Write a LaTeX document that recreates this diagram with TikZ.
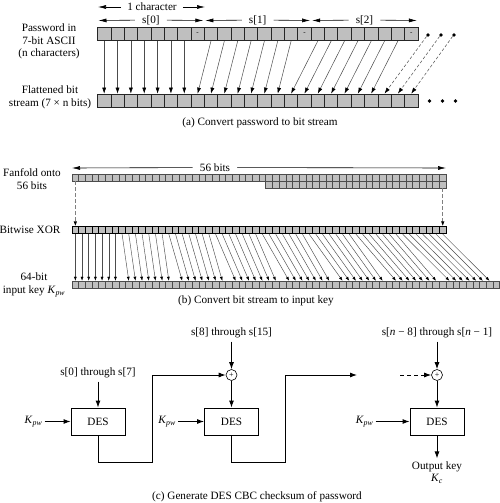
\documentclass[tikz,border=0pt]{standalone}
\usepackage{fontspec}
\setmainfont{Liberation Serif}
\usetikzlibrary{arrows.meta, positioning, calc}
\definecolor{bitgray}{gray}{0.75}
\definecolor{wiregray}{gray}{0.3}
\newcommand{\keypw}{\textit{K}\textsubscript{\textit{pw}}}
\newcommand{\keyc}{\textit{K}\textsubscript{\textit{c}}}

\begin{document}
\begin{tikzpicture}[x=1pt, y=-1pt,
  every node/.style={font=\fontsize{11.2}{12.5}\selectfont},
  bigbit/.style={rectangle, draw=black!85, fill=bitgray, line width=0.7pt,
    minimum width=13.35pt, minimum height=13.4pt, inner sep=0pt,
    font=\fontsize{7}{7}\selectfont},
  tinybit/.style={rectangle, draw=black!70, fill=bitgray, line width=0.5pt,
    minimum width=6.68pt, minimum height=6.8pt, inner sep=0pt},
  xorbit/.style={tinybit, draw=black, line width=0.9pt},
  rowname/.style={align=center, inner sep=0pt},
  dimtext/.style={fill=white, inner xsep=7pt, inner ysep=1pt},
  dimarrow/.style={-{Latex[length=8pt,width=4pt]}, line width=0.6pt},
  dotmark/.style={circle, fill=black, minimum size=3.6pt, inner sep=0pt},
  bitarrow/.style={-{Latex[length=6pt,width=4pt,color=black]}, line width=0.5pt, wiregray},
  dashdrop/.style={bitarrow, dash pattern=on 3pt off 2pt},
  keyarrow/.style={-{Latex[length=4pt,width=3pt,color=black]}, line width=0.45pt, wiregray},
  folddrop/.style={-{Latex[length=5pt,width=3.5pt,color=black]}, line width=1.1pt,
    dash pattern=on 4pt off 2pt, gray},
  desbox/.style={rectangle, draw, line width=0.9pt, minimum width=54pt, minimum height=27pt},
  xorsum/.style={circle, draw, line width=0.6pt, minimum size=11pt, inner sep=0pt,
    font=\fontsize{8}{8}\selectfont},
  flow/.style={-{Latex[length=7pt,width=5pt]}, line width=0.9pt},
  captext/.style={inner sep=0pt}
]
  \useasboundingbox (0,0) rectangle (500,503);

  % (a) password to bit stream
  \node[rowname] (pwname) at (49,41.5) {Password in\\7-bit ASCII\\(n characters)};
  \node[rowname] (flname) at (50,97.5) {Flattened bit\\stream (7 × n bits)};
  \foreach \k in {0,...,23} {
    \pgfmathtruncatemacro\pos{mod(\k,8)}
    \node[bigbit] (pw-\k) at ({97.5+13.35*(\k+0.5)},34) {\ifnum\pos=7 -\fi};
    \node[bigbit] (fl-\k) at ({97.5+13.35*(\k+0.5)},100.7) {};
  }
  \foreach \k in {0,...,22} {
    \pgfmathtruncatemacro\pos{mod(\k,8)}
    \pgfmathtruncatemacro\j{\k-floor(\k/8)}
    \ifnum\pos<7 \draw[bitarrow] (pw-\k.south) -- (fl-\j.north); \fi
  }
  \foreach \i/\x in {1/428,2/441,3/454} {
    \node[dotmark] (td-\i) at (\x,35) {};
    \node[dotmark] (bd-\i) at ({\x+1.5},101) {};
  }
  \foreach \i/\j in {1/21,2/22,3/23}
    \draw[dashdrop] (td-\i.south west) -- (fl-\j.north);

  \node[dimtext, inner xsep=6pt] (onechar) at (152,7) {1 character};
  \coordinate (oc-l) at (98,7);
  \coordinate (oc-r) at (205,7);
  \draw[dimarrow] (onechar) -- (oc-l);
  \draw[dimarrow] (onechar) -- (oc-r);
  \foreach \c in {0,1,2} {
    \node[dimtext] (sc-\c) at ({97.5+106.8*(\c+0.5)},20) {s[\c]};
    \coordinate (sc-\c-l) at ({98.5+106.8*\c},20.5);
    \coordinate (sc-\c-r) at ({96.5+106.8*(\c+1)},20.5);
    \draw[dimarrow] (sc-\c) -- (sc-\c-l);
    \draw[dimarrow] (sc-\c) -- (sc-\c-r);
  }
  \node[captext] (capa) at (260,123) {(a) Convert password to bit stream};

  % (b) bit stream to input key
  \node[rowname] (faname) at (32,179) {Fanfold onto\\56 bits};
  \node[rowname] (xrname) at (30,230) {Bitwise XOR};
  \node[rowname] (kyname) at (34,285) {64-bit\\input key \keypw};
  \node[dimtext] (fiftysix) at (215,167.5) {56 bits};
  \coordinate (fs-l) at (72,168);
  \coordinate (fs-r) at (446,168);
  \draw[dimarrow] (fiftysix) -- (fs-l);
  \draw[dimarrow] (fiftysix) -- (fs-r);
  \foreach \i in {0,...,55} {
    \node[tinybit] (fa-\i) at ({72+6.68*(\i+0.5)},177.6) {};
    \node[xorbit] (xr-\i) at ({72+6.68*(\i+0.5)},230.3) {};
  }
  \foreach \i in {29,...,55}
    \node[tinybit] (fb-\i) at ({72+6.68*(\i+0.5)},184.4) {};
  \foreach \j in {0,...,63}
    \node[tinybit] (ky-\j) at ({72+6.68*(\j+0.5)},284.4) {};
  \draw[folddrop] (fa-0.south) -- (xr-0.north);
  \draw[folddrop] (fb-55.south) -- (xr-55.north);
  \foreach \i in {0,...,55} {
    \pgfmathtruncatemacro\j{\i+floor(\i/7)}
    \draw[keyarrow] (xr-\i.south) -- (ky-\j.north);
  }
  \node[captext] (capb) at (256,301) {(b) Convert bit stream to input key};

  % (c) DES CBC checksum
  \node[desbox] (des1) at (98,421.5) {DES};
  \node[desbox] (des2) at (231.5,421.5) {DES};
  \node[desbox] (des3) at (437,421.5) {DES};
  \node[xorsum] (xor2) at (231.5,375) {+};
  \node[xorsum] (xor3) at (437,375) {+};
  \node (src1) at (98,373) {s[0] through s[7]};
  \node (src2) at (231.5,333) {s[8] through s[15]};
  \node (src3) at (437,333) {s[\textit{n} − 8] through s[\textit{n} − 1]};
  \node[inner sep=2pt, left=26pt of des1] (kp1) {\keypw};
  \node[inner sep=2pt, left=26pt of des2] (kp2) {\keypw};
  \node[inner sep=2pt, left=34pt of des3] (kp3) {\keypw};
  \node[rowname, inner sep=3pt, below=23pt of des3] (outkey) {Output key\\\keyc};

  \draw[flow] (src1) -- (des1);
  \draw[flow] (src2) -- (xor2);
  \draw[flow] (xor2) -- (des2);
  \draw[flow] (src3) -- (xor3);
  \draw[flow] (xor3) -- (des3);
  \draw[flow] (kp1) -- (des1);
  \draw[flow] (kp2) -- (des2);
  \draw[flow] (kp3) -- (des3);
  \draw[flow] (des3) -- (outkey);
  \coordinate (lo1) at (152,462);
  \coordinate (lo2) at (285,462);
  \coordinate (next) at (357,375);
  \coordinate (prev) at (400,375);
  \draw[flow] (des1.south) |- (lo1) |- (xor2.west);
  \draw[flow] (des2.south) |- (lo2) |- (next);
  \draw[flow, dash pattern=on 4pt off 3pt] (prev) -- (xor3);
  \node[captext] (capc) at (257,497) {(c) Generate DES CBC checksum of password};
\end{tikzpicture}
\end{document}
